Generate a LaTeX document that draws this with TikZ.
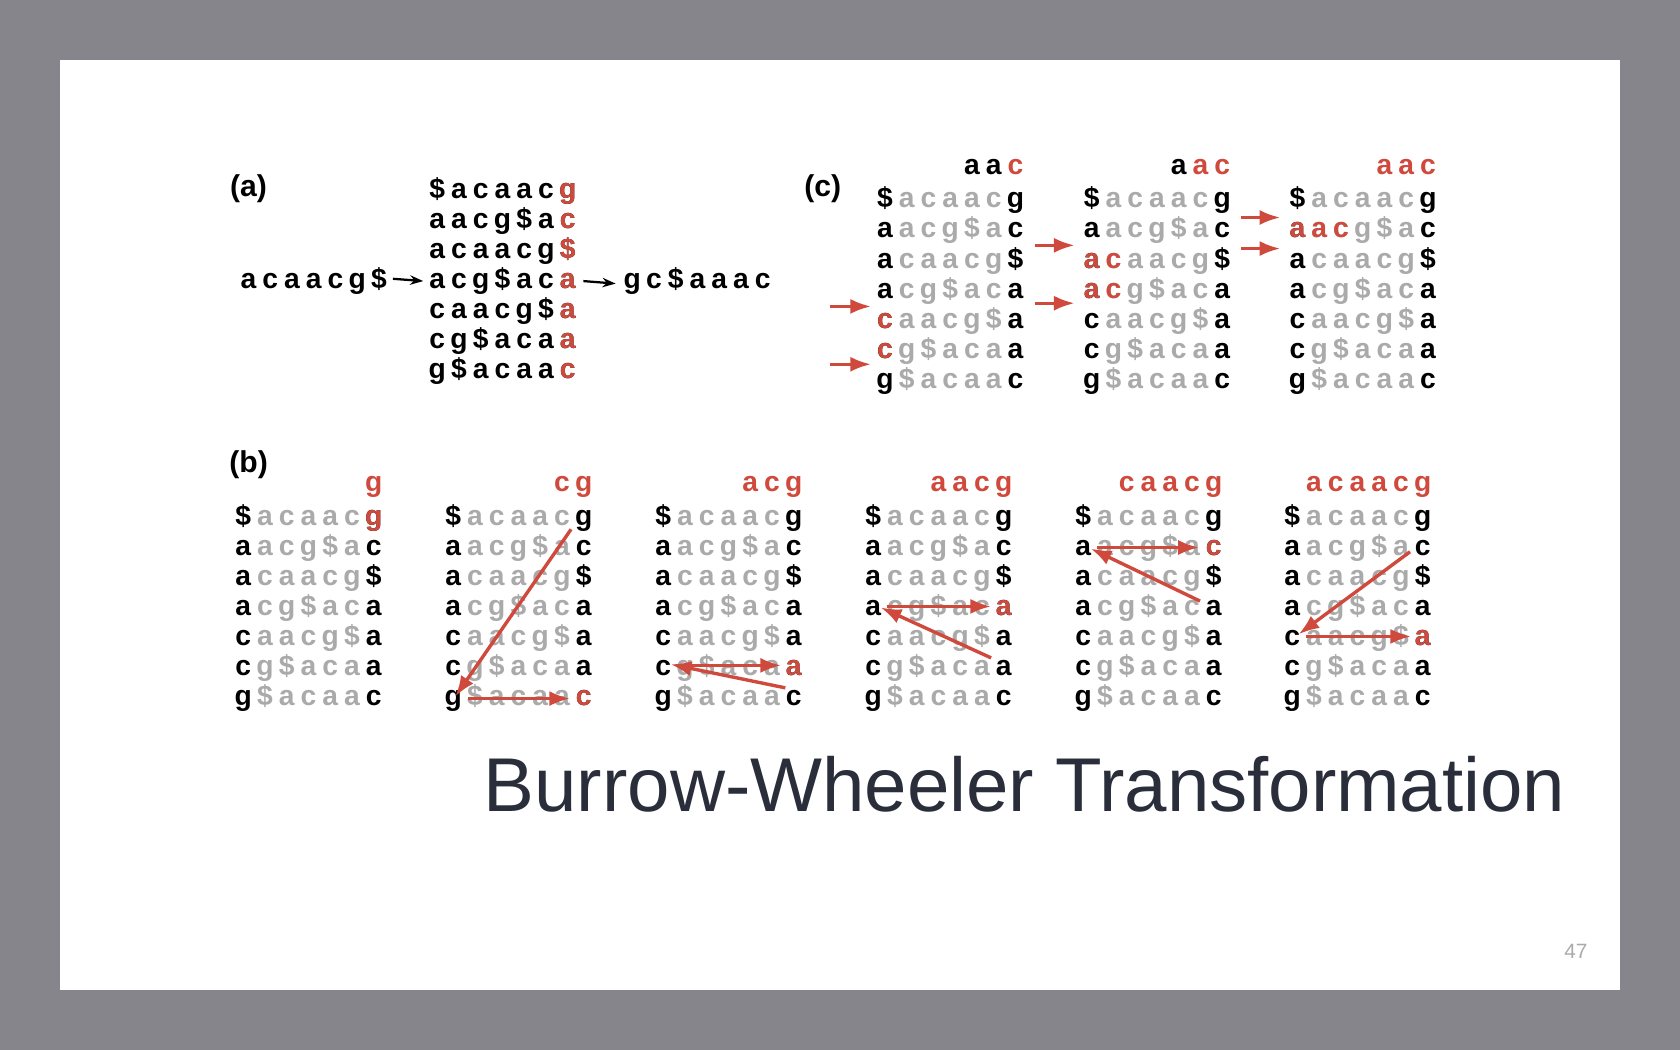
\documentclass[tikz,border=0pt]{standalone}
\usepackage{fontspec}
\setmainfont{Liberation Sans}
\usetikzlibrary{arrows.meta}
\definecolor{lg}{HTML}{AAAAAA}
\definecolor{rd}{HTML}{CF4A3C}
\definecolor{bgc}{HTML}{86858C}
\definecolor{ttl}{HTML}{2A2E3B}
\tikzset{
 ch/.style={inner sep=0pt,anchor=base,font=\bfseries\fontsize{15}{18}\selectfont},
 rarr/.style={draw=rd,line width=1.8pt,-{Latex[length=11pt,width=8pt]}},
 barr/.style={draw=black,line width=1.2pt,-{Stealth[length=7pt,width=5pt]}},
 lbl/.style={inner sep=0pt,anchor=base,font=\bfseries\fontsize{16}{18}\selectfont}
}
\newcommand\bwtmat[4]{%
 \foreach \r/\s in {0/{\$,a,c,a,a,c,g},1/{a,a,c,g,\$,a,c},2/{a,c,a,a,c,g,\$},3/{a,c,g,\$,a,c,a},4/{c,a,a,c,g,\$,a},5/{c,g,\$,a,c,a,a},6/{g,\$,a,c,a,a,c}}{%
  \foreach \c [count=\i from 0] in \s {%
   \ifnum\i=0 \def\col{black}\else\ifnum\i=6 \def\col{black}\else\def\col{#4}\fi\fi
   \node[ch,text=\col] (#1-\r-\i) at ({#2+\i*20.3},{#3+\r*28.1+8}) {\c};
  }}}
\begin{document}
\begin{tikzpicture}[x=0.02cm,y=-0.02cm]
\fill[bgc] (0,0) rectangle (1568,980);
\fill[white] (56,56) rectangle (1512,924);
\useasboundingbox (0,0) rectangle (1568,980);
% labels
\node[lbl] (la) at (232,183) {(a)};
\node[lbl] (lb) at (232,441) {(b)};
\node[lbl] (lc) at (768,183) {(c)};
% panel a
\foreach \c [count=\i from 0] in {a,c,a,a,c,g,\$} \node[ch] (in-\i) at ({232+\i*20.3},269) {\c};
\bwtmat{A}{408}{177}{black}
\foreach \r/\c in {0/g,1/c,2/\$,3/a,4/a,5/a,6/c} \node[ch,text=rd] at (A-\r-6.base) {\c};
\foreach \c [count=\i from 0] in {g,c,\$,a,a,a,c} \node[ch] (out-\i) at ({590+\i*20.3},269) {\c};
\draw[barr] ([xshift=3pt]in-6.east) -- ([xshift=-3pt]A-3-0.west);
\draw[barr] ([xshift=4pt]A-3-6.east) -- ([xshift=-4pt]out-0.west);
% panel b
\foreach \k/\x in {1/227,2/423,3/619,4/815,5/1011,6/1206} {\bwtmat{B\k}{\x}{482}{lg}}
\node[ch,text=rd] at (B1-0-6.base) {g};
\node[ch,text=rd] at (B2-6-6.base) {c};
\node[ch,text=rd] at (B3-5-6.base) {a};
\node[ch,text=rd] at (B4-3-6.base) {a};
\node[ch,text=rd] at (B5-1-6.base) {c};
\node[ch,text=rd] at (B6-4-6.base) {a};
\foreach \k/\x/\h in {1/227/{g},2/423/{c,g},3/619/{a,c,g},4/815/{a,a,c,g},5/1011/{c,a,a,c,g},6/1206/{a,c,a,a,c,g}}{
  \foreach \c [count=\i from 0] in \h {\node[ch,text=rd] at ({\x+(6-\k+1+\i)*20.3},459) {\c};}}
\draw[rarr] (533,494) -- (425,650);
\draw[rarr] (437,652) -- (532,652);
\draw[rarr] (733,642) -- (626,620);
\draw[rarr] (632,621) -- (729,621);
\draw[rarr] (925,614) -- (822,567);
\draw[rarr] (828,566) -- (925,566);
\draw[rarr] (1120,561) -- (1018,512);
\draw[rarr] (1024,511) -- (1119,511);
\draw[rarr] (1316,515) -- (1212,592);
\draw[rarr] (1219,594) -- (1317,594);
% panel c
\foreach \k/\x in {1/826,2/1019,3/1211} {\bwtmat{C\k}{\x}{186}{lg}}
\node[ch] at ({826+4*20.3},163) {a}; \node[ch] at ({826+5*20.3},163) {a}; \node[ch,text=rd] at ({826+6*20.3},163) {c};
\node[ch] at ({1019+4*20.3},163) {a}; \node[ch,text=rd] at ({1019+5*20.3},163) {a}; \node[ch,text=rd] at ({1019+6*20.3},163) {c};
\node[ch,text=rd] at ({1211+4*20.3},163) {a}; \node[ch,text=rd] at ({1211+5*20.3},163) {a}; \node[ch,text=rd] at ({1211+6*20.3},163) {c};
\node[ch,text=rd] at (C1-4-0.base) {c};
\node[ch,text=rd] at (C1-5-0.base) {c};
\node[ch,text=rd] at (C2-2-0.base) {a}; \node[ch,text=rd] at (C2-2-1.base) {c};
\node[ch,text=rd] at (C2-3-0.base) {a}; \node[ch,text=rd] at (C2-3-1.base) {c};
\node[ch,text=rd] at (C3-1-0.base) {a}; \node[ch,text=rd] at (C3-1-1.base) {a}; \node[ch,text=rd] at (C3-1-2.base) {c};
\draw[rarr] (775,286) -- (813,286);
\draw[rarr] (775,340) -- (813,340);
\draw[rarr] (966,229) -- (1003,229);
\draw[rarr] (966,283) -- (1003,283);
\draw[rarr] (1158,203) -- (1195,203);
\draw[rarr] (1158,232) -- (1195,232);
% title
\node[inner sep=0pt,anchor=base west,text=ttl,font=\fontsize{40.5}{46}\selectfont] (title) at (451,757) {Burrow-Wheeler Transformation};
\node[inner sep=0pt,anchor=base east,text=lg,font=\fontsize{11}{13}\selectfont] (pg) at (1482,895) {47};
\end{tikzpicture}
\end{document}
